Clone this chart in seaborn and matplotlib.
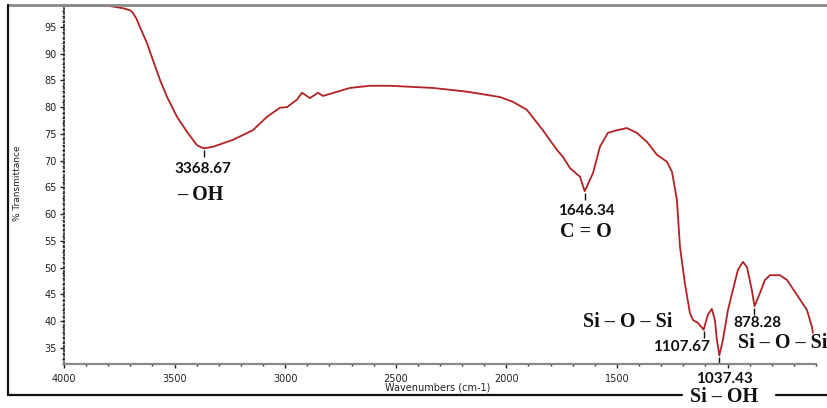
import numpy as np
import matplotlib
matplotlib.use("Agg")
import matplotlib.pyplot as plt
import seaborn as sns
from matplotlib.lines import Line2D
from matplotlib.ticker import MultipleLocator, FuncFormatter

sns.set_style("white")

# FTIR spectrum (wavenumber cm-1, % transmittance)
wavenumber = [4000, 3792, 3733, 3700, 3688, 3672, 3657, 3625, 3598, 3566, 3534, 3489,
              3444, 3399, 3369, 3326, 3236, 3146, 3082, 3024, 2992, 2947, 2924, 2888,
              2852, 2829, 2707, 2617, 2526, 2332, 2178, 2029, 1970, 1907, 1835, 1771,
              1744, 1712, 1667, 1646, 1608, 1577, 1541, 1500, 1455, 1410, 1364, 1319,
              1274, 1251, 1229, 1215, 1193, 1170, 1156, 1134, 1108, 1089, 1071, 1057,
              1048, 1037, 1021, 998, 976, 953, 930, 912, 890, 878, 853, 831, 808, 763,
              731, 686, 641, 618, 614]
transmittance = [99.0, 98.9, 98.5, 98.1, 97.6, 96.5, 95.0, 92.0, 88.8, 85.1, 81.9, 78.2,
                 75.4, 72.9, 72.3, 72.6, 73.9, 75.7, 78.2, 79.9, 80.0, 81.4, 82.7, 81.7,
                 82.7, 82.1, 83.6, 84.0, 84.0, 83.6, 82.9, 81.9, 81.0, 79.5, 75.7, 72.0,
                 70.7, 68.6, 67.0, 64.3, 67.7, 72.6, 75.2, 75.7, 76.1, 75.2, 73.5, 71.1,
                 69.8, 67.9, 62.7, 53.9, 47.1, 41.5, 40.2, 39.7, 38.4, 41.2, 42.3, 40.2,
                 36.5, 33.6, 36.5, 42.1, 45.8, 49.6, 51.1, 50.1, 45.8, 42.8, 45.3, 47.7,
                 48.6, 48.6, 47.7, 44.9, 42.1, 38.9, 37.8]

peak_pos = [3368.67, 1646.34, 1107.67, 1037.43, 878.28]
peak_val = [72.3, 64.3, 38.4, 33.6, 42.8]
peak_labels = ["3368.67", "1646.34", "1107.67", "1037.43", "878.28"]

num_font = dict(family="Lato", fontweight="bold", fontsize=11, color="#111111")
grp_font = dict(family="Liberation Serif", fontweight="bold", fontsize=14.5, color="#111111")

fig = plt.figure(figsize=(8.28, 4.08), dpi=100)
ax = fig.add_axes([64 / 828, 1 - 364 / 408, 752 / 828, 359 / 408])

sns.lineplot(x=wavenumber, y=transmittance, sort=False, estimator=None,
             color="#b22222", linewidth=1.3, ax=ax)

ax.set_xlim(4000, 600)
ax.set_ylim(32, 99.1)
ax.xaxis.set_major_locator(MultipleLocator(500))
ax.xaxis.set_minor_locator(MultipleLocator(100))
# the 1000 label sits under the 1037.43 annotation in the reference
ax.xaxis.set_major_formatter(FuncFormatter(lambda v, p: "" if v < 1500 else f"{v:.0f}"))
ax.yaxis.set_minor_locator(MultipleLocator(1))
ax.set_yticks(np.arange(35, 100, 5))

for s in ["top", "right"]:
    ax.spines[s].set_visible(False)
ax.spines["left"].set_linestyle((0, (1, 1.5)))
ax.spines["left"].set_color("#222222")
ax.spines["left"].set_linewidth(1.2)
ax.spines["bottom"].set_color("#888888")
ax.spines["bottom"].set_linewidth(1.6)

ax.tick_params(axis="both", which="major", direction="out", length=3, width=1,
               labelsize=7, colors="#222222", pad=2, left=True, bottom=True)
ax.tick_params(axis="both", which="minor", direction="out", length=1.5, width=1,
               colors="#222222", left=True, bottom=True)
ax.tick_params(axis="x", which="major", pad=4)

# peak markers and wavenumber labels
ax.vlines(peak_pos, [v - 0.3 for v in peak_val], [v - 1.6 for v in peak_val],
          color="#111111", linewidth=1)

ax.text(3372, 68.5, peak_labels[0], ha="center", va="center", **num_font)
ax.text(1640, 60.6, peak_labels[1], ha="center", va="center", **num_font)
ax.text(1206, 35.2, peak_labels[2], ha="center", va="center", **num_font)
ax.text(1012, 29.2, peak_labels[3], ha="center", va="center", clip_on=False, **num_font)
ax.text(867, 39.7, peak_labels[4], ha="center", va="center", **num_font)

ax.text(3385, 63.6, "– OH", ha="center", va="center", **grp_font)
ax.text(1640, 56.7, "C = O", ha="center", va="center", **grp_font)
ax.text(1450, 39.9, "Si – O – Si", ha="center", va="center", **grp_font)
ax.text(953, 35.9, "Si – O – Si", ha="left", va="center", clip_on=False, **grp_font)

fig.text(438 / 828, 1 - 388 / 408, "Wavenumbers (cm-1)", ha="center", va="center",
         fontsize=7, color="#222222")
fig.text(18 / 828, 1 - 183 / 408, "% Transmittance", ha="center", va="center",
         rotation=90, fontsize=6.5, color="#222222")
fig.text(724 / 828, 1 - 397 / 408, "Si – OH", ha="center", va="center", **grp_font)

# outer frame
W, H = 828, 408
def fline(x0, y0, x1, y1, **kw):
    fig.add_artist(Line2D([x0 / W, x1 / W], [1 - y0 / H, 1 - y1 / H], **kw))

fline(8, 5, 828, 5, color="#888888", linewidth=2)
fline(8, 5, 8, 395, color="#111111", linewidth=1.6)
fline(8, 395, 682, 395, color="#111111", linewidth=1.6)
fline(776, 395, 828, 395, color="#111111", linewidth=1.6)

fig.savefig("out.png", dpi=100)
